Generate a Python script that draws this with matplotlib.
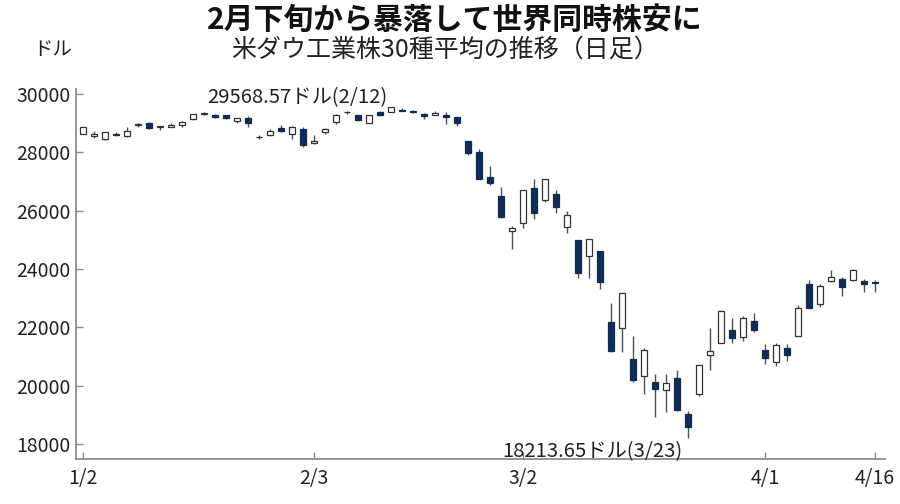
import matplotlib
matplotlib.use('Agg')
import matplotlib.pyplot as plt
import numpy as np

# trading days Jan 2 - Apr 16 (2020)
dates = ['1/2', '1/3', '1/6', '1/7', '1/8', '1/9', '1/10', '1/13', '1/14', '1/15',
         '1/16', '1/17', '1/21', '1/22', '1/23', '1/24', '1/27', '1/28', '1/29', '1/30', '1/31',
         '2/3', '2/4', '2/5', '2/6', '2/7', '2/10', '2/11', '2/12', '2/13', '2/14',
         '2/18', '2/19', '2/20', '2/21', '2/24', '2/25', '2/26', '2/27', '2/28',
         '3/2', '3/3', '3/4', '3/5', '3/6', '3/9', '3/10', '3/11', '3/12', '3/13',
         '3/16', '3/17', '3/18', '3/19', '3/20', '3/23', '3/24', '3/25', '3/26', '3/27',
         '3/30', '3/31',
         '4/1', '4/2', '4/3', '4/6', '4/7', '4/8', '4/9', '4/13', '4/14', '4/15', '4/16']

opens = [28639, 28553, 28466, 28639, 28556, 28923, 29020, 28870, 28880, 28939,
         29132, 29313, 29283, 29263, 29070, 29190, 28542, 28600, 28820, 28640, 28813,
         28320, 28697, 29048, 29390, 29286, 29000, 29380, 29390, 29440, 29410,
         29300, 29280, 29290, 29207, 28403, 28012, 27152, 26495, 25320,
         25591, 26762, 26383, 26581, 25457, 24992, 24453, 24604, 22184, 21974,
         20917, 20349, 20115, 19860, 20253, 19028, 19722, 21050, 21468, 21898,
         21678, 22208,
         21228, 20819, 21285, 21693, 23473, 22815, 23602, 23654, 23640, 23600, 23560]

highs = [28873, 28716, 28708, 28686, 28866, 29009, 29036, 28909, 29010, 29069,
         29300, 29374, 29316, 29275, 29190, 29260, 28597, 28794, 28944, 28888, 28873,
         28600, 28841, 29308, 29410, 29286, 29277, 29415, 29569, 29520, 29441,
         29333, 29409, 29370, 29218, 28403, 28116, 27546, 26802, 25470,
         26706, 27084, 27102, 26700, 25994, 24992, 25020, 24604, 22838, 23186,
         21689, 21295, 20400, 20400, 20531, 19124, 20705, 21992, 22596, 22327,
         22378, 22480,
         21447, 21473, 21447, 22780, 23623, 23480, 23950, 23712, 24006, 23650, 23610]

lows = [28628, 28500, 28419, 28565, 28523, 28866, 28789, 28761, 28870, 28884,
        29120, 29281, 29160, 29146, 28990, 28860, 28450, 28560, 28700, 28440, 28169,
        28300, 28640, 28977, 29300, 29057, 28992, 29230, 29384, 29410, 29340,
        29148, 29270, 28970, 28888, 27922, 27080, 26884, 25762, 24681,
        25391, 25706, 26286, 25915, 25226, 23707, 23690, 23328, 21154, 21155,
        20116, 19726, 18917, 19100, 19122, 18214, 19650, 20540, 21460, 21469,
        21522, 21850,
        20735, 20677, 20863, 21693, 22650, 22712, 23543, 23092, 23600, 23200, 23230]

closes = [28869, 28635, 28703, 28584, 28745, 28957, 28824, 28907, 28940, 29030,
          29298, 29348, 29196, 29186, 29160, 28990, 28536, 28723, 28734, 28859, 28256,
          28400, 28808, 29291, 29380, 29103, 29277, 29276, 29551, 29423, 29398,
          29232, 29348, 29220, 28992, 27961, 27081, 26958, 25767, 25409,
          26703, 25917, 27091, 26121, 25865, 23851, 25018, 23553, 21201, 23186,
          20189, 21237, 19899, 20087, 19174, 18592, 20705, 21201, 22552, 21637,
          22327, 21917,
          20944, 21413, 21053, 22680, 22654, 23434, 23719, 23391, 23950, 23504, 23538]

tick_dates = ['1/2', '2/3', '3/2', '4/1', '4/16']

plt.rcParams['font.family'] = ['Noto Sans CJK JP', 'DejaVu Sans']

navy = '#0f2d52'

fig = plt.figure(figsize=(9, 5.04), dpi=100)
ax = fig.add_axes([0.0844, 0.0899, 0.8989, 0.7335])

x = np.arange(len(dates))
o = np.array(opens)
c = np.array(closes)
up = c >= o
body_low = np.minimum(o, c)
body_h = np.abs(c - o)

# wicks first, bodies on top
ax.vlines(x, lows, highs, color='#505050', linewidth=1, zorder=1)
ax.bar(x[up], body_h[up], bottom=body_low[up], width=0.6,
       facecolor='white', edgecolor='#333333', linewidth=0.9, zorder=2)
ax.bar(x[~up], body_h[~up], bottom=body_low[~up], width=0.6,
       facecolor=navy, edgecolor=navy, linewidth=0.9, zorder=2)

ax.set_xlim(-0.64, 72.9)
ax.set_ylim(17500, 30170)
ax.set_yticks(range(18000, 30001, 2000))
ax.set_xticks([dates.index(d) for d in tick_dates])
ax.set_xticklabels(tick_dates)

for s in ['top', 'right']:
    ax.spines[s].set_visible(False)
for s in ['left', 'bottom']:
    ax.spines[s].set_color('#8c8c8c')
    ax.spines[s].set_linewidth(1.3)

ax.tick_params(direction='in', length=5, width=1, color='#8c8c8c',
               labelsize=14, labelcolor='#222222')
ax.tick_params(axis='x', pad=7)
ax.tick_params(axis='y', pad=4)

# high / low notes
ax.text(27.7, 29890, '29568.57ドル(2/12)', ha='right', va='center',
        fontsize=14.6, color='#222222')
ax.text(54.5, 17730, '18213.65ドル(3/23)', ha='right', va='center',
        fontsize=14.6, color='#222222')

fig.text(455 / 900, 1 - 20 / 504, '2月下旬から暴落して世界同時株安に',
         ha='center', va='center', fontsize=21.5, fontweight='bold', color='#111111')
fig.text(445 / 900, 1 - 50 / 504, '米ダウ工業株30種平均の推移（日足）',
         ha='center', va='center', fontsize=18, color='#222222')
fig.text(72 / 900, 1 - 50 / 504, 'ドル', ha='right', va='center',
         fontsize=14, color='#222222')

fig.savefig('out.png', dpi=100)
